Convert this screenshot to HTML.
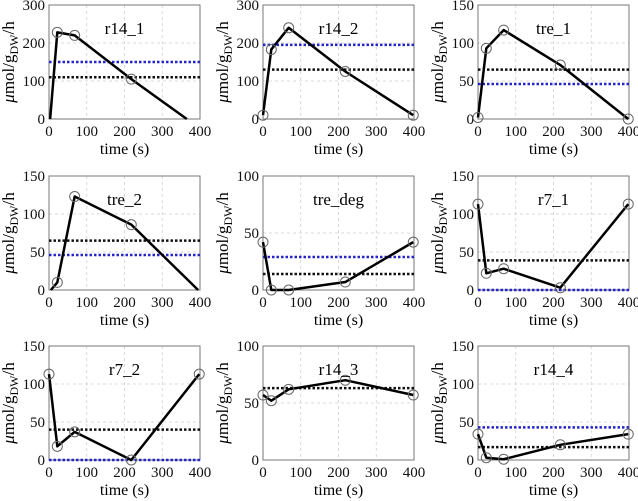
<!DOCTYPE html>
<html><head><meta charset="utf-8"><style>
html,body{margin:0;padding:0;background:#fff;}
svg{display:block;font-family:"Liberation Serif",serif;}
</style></head><body>
<svg id="fig" width="638" height="501" viewBox="0 0 638 501" xmlns="http://www.w3.org/2000/svg"></svg>
<script>
const titles=["r14_1","r14_2","tre_1","tre_2","tre_deg","r7_1","r7_2","r14_3","r14_4"];
const ymaxes=[300,300,150,150,100,150,150,100,150];
const xs=[[3,22,68,218,365],[0,22,68,218,398],[0,22,68,218,398],[5,22,68,218,395],[0,22,68,218,398],[0,22,68,218,398],[0,22,68,218,398],[0,22,68,218,398],[0,22,68,218,398]];
const ys=[[0,228,220,105,0],[10,183,240,125,10],[2,93,117,71,0],[0,10,123,86,0],[42,0,0,7,42],[113,22,28,3,113],[113,18,37,0,113],[57,52,62,70,57],[34,3,1,20,34]];
const markerMask=[[0,1,1,1,0],[1,1,1,1,1],[1,1,1,1,1],[0,1,1,1,0],[1,1,1,1,1],[1,1,1,1,1],[1,1,1,1,1],[1,1,1,1,1],[1,1,1,1,1]];
const blueLevels=[150,195,46,46,29,0,0,null,43];
const blackLevels=[110,130,65,65,14,39,40,63,17];
const xTicks=[0,100,200,300,400];

const NS="http://www.w3.org/2000/svg";
const svg=document.getElementById('fig');
const colL=[49,263,478], rowT=[5,176,346], W=151, H=114;
function mk(tag,attrs,parent){const e=document.createElementNS(NS,tag);for(const k in attrs)e.setAttribute(k,attrs[k]);(parent||svg).appendChild(e);return e;}
for(let i=0;i<9;i++){
  const L=colL[i%3],T=rowT[Math.floor(i/3)],ym=ymaxes[i];
  const sx=v=>L+v/400*W, sy=v=>T+H-v/ym*H;
  const g=mk('g',{});
  
  
  const yt=ym===300?[0,100,200,300]:ym===150?[0,50,100,150]:[0,50,100];
  xTicks.forEach(t=>{if(t>0&&t<400)mk('line',{x1:sx(t),x2:sx(t),y1:T,y2:T+H,stroke:'#d0d0d0','stroke-dasharray':'3,3','stroke-width':0.8},g);
    const tx=mk('text',{x:sx(t),y:T+H+17,'text-anchor':'middle','font-size':15,fill:'#111'},g);tx.textContent=t;
    });
  yt.forEach(t=>{if(t>0&&t<ym)mk('line',{x1:L,x2:L+W,y1:sy(t),y2:sy(t),stroke:'#d0d0d0','stroke-dasharray':'3,3','stroke-width':0.8},g);
    const tx=mk('text',{x:L-4,y:sy(t)+5,'text-anchor':'end','font-size':15,fill:'#111'},g);tx.textContent=t;
    });
  const box=mk('rect',{x:L,y:T,width:W,height:H,fill:'none',stroke:'#777','stroke-width':1},g);
  
  if(blackLevels[i]!==null){const l=mk('line',{x1:L,x2:L+W,y1:sy(blackLevels[i]),y2:sy(blackLevels[i]),stroke:'#111','stroke-width':2.5,'stroke-dasharray':'2.5,2'},g);
    }
  if(blueLevels[i]!==null){const l=mk('line',{x1:L,x2:L+W,y1:sy(blueLevels[i]),y2:sy(blueLevels[i]),stroke:'#2424c8','stroke-width':2.5,'stroke-dasharray':'2.5,2'},g);
    }
  const pts=xs[i].map((x,j)=>sx(x)+','+sy(ys[i][j])).join(' ');
  const pl=mk('polyline',{points:pts,fill:'none',stroke:'#000','stroke-width':2.5,'stroke-linejoin':'round'},g);
  
  xs[i].forEach((x,j)=>{if(!markerMask[i][j])return;
    const c=mk('circle',{cx:sx(x),cy:sy(ys[i][j]),r:5,fill:'none',stroke:'#666','stroke-width':1},g);
    });
  const tt=mk('text',{x:L+W/2,y:T+29,'text-anchor':'middle','font-size':17,fill:'#000'},g);tt.textContent=titles[i];
  
  const xl=mk('text',{x:L+W/2,y:T+H+35,'text-anchor':'middle','font-size':16,fill:'#000'},g);xl.textContent='time (s)';
  
  const yl=mk('text',{transform:`translate(${L-35},${T+H/2}) rotate(-90)`,'text-anchor':'middle','font-size':17,fill:'#000'},g);
  
  yl.innerHTML='<tspan font-style="italic">μ</tspan>mol/g<tspan font-size="12" dy="4">DW</tspan><tspan dy="-4">/h</tspan>';
}
</script>
</body></html>
